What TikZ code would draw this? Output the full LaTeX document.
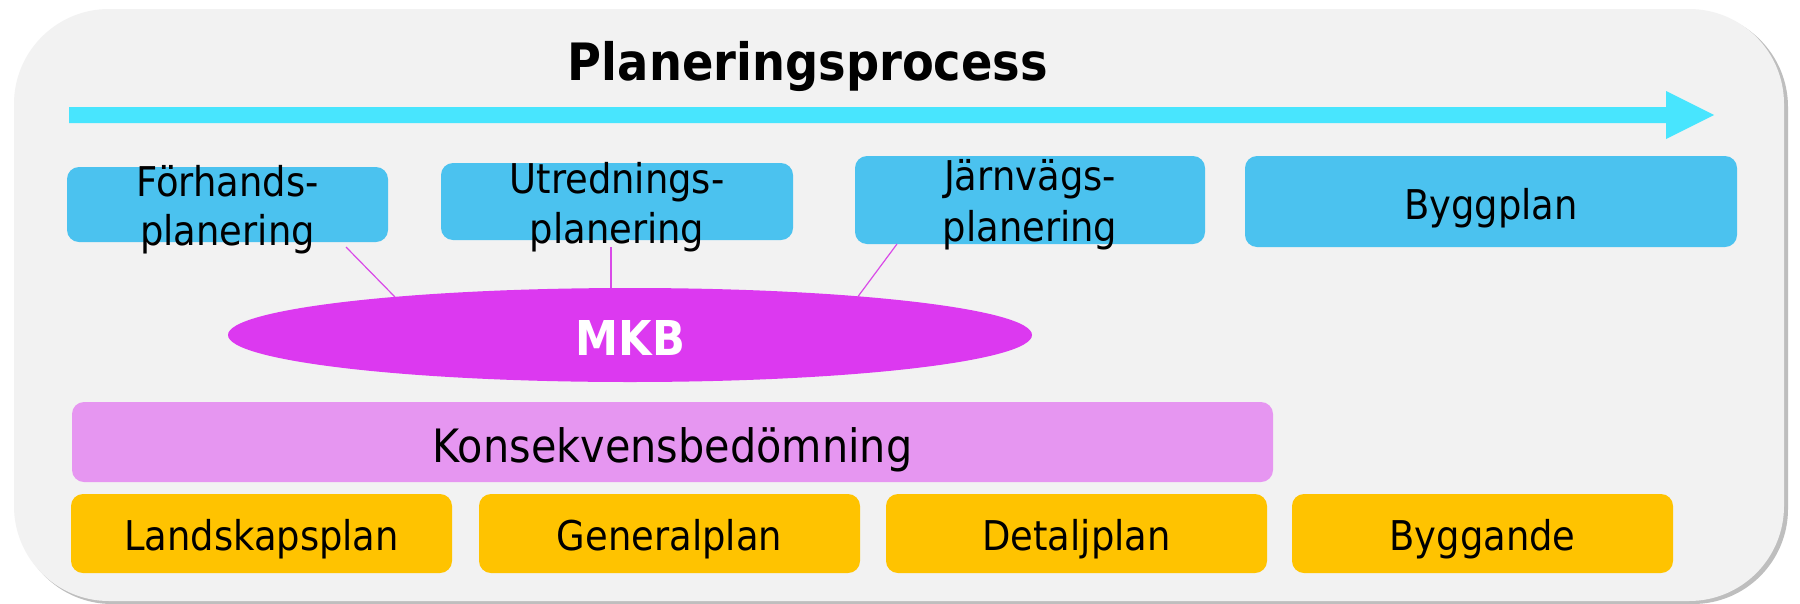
\documentclass[tikz,border=0pt]{standalone}
\usepackage{fontspec}
\setmainfont{DejaVu Sans}[FakeStretch=0.9]
\usetikzlibrary{shapes.geometric,calc}
\definecolor{bgc}{HTML}{F2F2F2}
\definecolor{shadowc}{HTML}{BEBEBE}
\definecolor{arrowc}{HTML}{48E5FE}
\definecolor{bluebox}{HTML}{4BC2EF}
\definecolor{mkbc}{HTML}{DC39F0}
\definecolor{kbc}{HTML}{E696F1}
\definecolor{orangebox}{HTML}{FFC300}
\definecolor{linec}{HTML}{D94AE8}
\begin{document}
\begin{tikzpicture}[x=1pt,y=-1pt,
  box/.style={rounded corners=12pt, inner sep=0pt, outer sep=0pt, draw=none},
  bluestyle/.style={box, fill=bluebox},
  orangestyle/.style={box, fill=orangebox, minimum height=79pt},
  lbl/.style={anchor=base, inner sep=0pt, outer sep=0pt, font=\fontsize{41}{49}\selectfont},
  conn/.style={draw=linec, line width=1.2pt}]
\useasboundingbox (0,0) rectangle (1800,603);
\fill[white] (0,0) rectangle (1800,603);
% background panel with shadow
\fill[shadowc, rounded corners=95pt] (17,12) rectangle (1788,604);
\fill[bgc, rounded corners=95pt] (14,9) rectangle (1784,601);
% title and process arrow
\node[anchor=base, inner sep=0pt, font=\bfseries\fontsize{51.5}{60}\selectfont] (title) at (808,80) {Planeringsprocess};
\fill[arrowc] (69,107) -- (1666,107) -- (1666,91) -- (1714,115) -- (1666,139) -- (1666,123) -- (69,123) -- cycle;
% top boxes
\node[bluestyle, minimum width=321pt, minimum height=75pt] (fh) at (227.5,204.5) {};
\node[bluestyle, minimum width=352pt, minimum height=77pt] (ut) at (617,201.5) {};
\node[bluestyle, minimum width=350pt, minimum height=88pt] (jv) at (1030,200) {};
\node[bluestyle, minimum width=492pt, minimum height=91pt] (bp) at (1491,201.5) {};
\node[lbl] (fh1) at (227.5,196) {Förhands-};
\node[lbl] (fh2) at (227.5,245) {planering};
\node[lbl] (ut1) at (617,193) {Utrednings-};
\node[lbl] (ut2) at (617,243) {planering};
\node[lbl] (jv1) at (1030,190.5) {Järnvägs-};
\node[lbl] (jv2) at (1030,241.5) {planering};
\node[lbl] (bp1) at (1491,219) {Byggplan};
% MKB ellipse
\node[ellipse, fill=mkbc, draw=none, inner sep=0pt, outer sep=0pt, minimum width=804pt, minimum height=94pt] (mkb) at (630,335) {};
\node[anchor=base, inner sep=0pt, text=white, font=\bfseries\fontsize{48}{58}\selectfont] (mkbt) at (630.5,355) {MKB};
% connectors
\draw[conn] ([shift={(118.5,5)}]fh.south) -- ($(mkb.center)+(-235,-38)$);
\coordinate (utc) at ([shift={(-6,7)}]ut.south);
\draw[conn] (utc) -- (utc |- mkb.north);
\draw[conn] ([shift={(-133,0)}]jv.south) -- ($(mkb.center)+(228,-38.5)$);
% Konsekvensbedomning
\node[box, fill=kbc, minimum width=1201pt, minimum height=80pt] (kb) at (672.5,442) {};
\node[anchor=base, inner sep=0pt, font=\fontsize{46}{55}\selectfont] (kbt) at (672.5,462) {Konsekvensbedömning};
% bottom boxes
\node[orangestyle, minimum width=381pt] (ls) at (261.5,533.5) {};
\node[orangestyle, minimum width=381pt] (gp) at (669.5,533.5) {};
\node[orangestyle, minimum width=381pt] (dp) at (1076.5,533.5) {};
\node[orangestyle, minimum width=381pt] (bg) at (1482.5,533.5) {};
\node[lbl] (lst) at (261.5,550) {Landskapsplan};
\node[lbl] (gpt) at (669.5,550) {Generalplan};
\node[lbl] (dpt) at (1076.5,550) {Detaljplan};
\node[lbl] (bgt) at (1482.5,550) {Byggande};
\end{tikzpicture}
\end{document}
